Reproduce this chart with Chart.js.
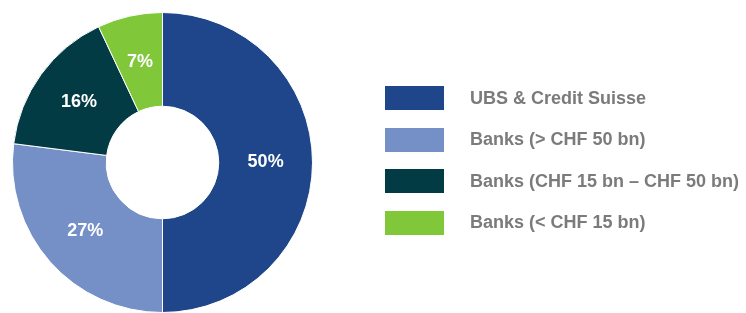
<!DOCTYPE html>
<html>
<head>
<meta charset="utf-8">
<script src="https://cdn.jsdelivr.net/npm/chart.js@4"></script>
<style>
  html, body { margin: 0; padding: 0; background: #fff; }
  #wrap { position: relative; width: 746px; height: 313px; }
  #legend { position: absolute; left: 385px; top: 86px; font-family: "Liberation Sans", Arial, sans-serif; font-weight: bold; font-size: 18px; color: #7b7b7c; }
  .row { display: flex; align-items: center; height: 24px; margin-bottom: 17.5px; white-space: nowrap; }
  .box { width: 59px; height: 24px; margin-right: 26px; }
</style>
</head>
<body>
<div id="wrap">
  <canvas id="bank-chart"></canvas>
  <div id="legend"></div>
</div>
<script>
'use strict';

// *************** DATA
let categories = ['UBS & Credit Suisse', 'Banks (> CHF 50 bn)', 'Banks (CHF 15 bn – CHF 50 bn)', 'Banks (< CHF 15 bn)'];
let shares = [50, 27, 16, 7];
let sliceColors = ['#1f468a', '#7490c6', '#033b45', '#80c83a'];

// *************** LEGEND (html)
let legendEl = document.getElementById('legend');
for (let i = 0; i < categories.length; i++) {
  let row = document.createElement('div');
  row.className = 'row';
  let box = document.createElement('span');
  box.className = 'box';
  box.style.background = sliceColors[i];
  let txt = document.createElement('span');
  txt.textContent = categories[i];
  row.appendChild(box);
  row.appendChild(txt);
  legendEl.appendChild(row);
}

// *************** PLUGIN: percent labels in the slices
let sliceLabels = {
  id: 'sliceLabels',
  afterDatasetsDraw(chart) {
    let ctx = chart.ctx;
    let meta = chart.getDatasetMeta(0);
    ctx.save();
    ctx.fillStyle = '#ffffff';
    ctx.font = 'bold 18px "Liberation Sans", Arial, sans-serif';
    ctx.textAlign = 'center';
    ctx.textBaseline = 'middle';
    meta.data.forEach(function (arc, i) {
      let pos = arc.tooltipPosition();
      ctx.fillText(shares[i] + '%', pos.x, pos.y);
    });
    ctx.restore();
  }
};

let ctx = document.getElementById('bank-chart');

new Chart(ctx, {
  type: 'doughnut',
  data: {
    labels: categories,
    datasets: [{
      data: shares,
      backgroundColor: sliceColors,
      borderColor: '#ffffff',
      borderWidth: 1
    }]
  },
  options: {
    responsive: true,
    maintainAspectRatio: false,
    animation: false,
    cutout: '37.5%',
    layout: { padding: { left: 10, top: 12, right: 431, bottom: -4 } },
    plugins: {
      legend: { display: false },
      tooltip: { enabled: false }
    }
  },
  plugins: [sliceLabels]
});
</script>
</body>
</html>
